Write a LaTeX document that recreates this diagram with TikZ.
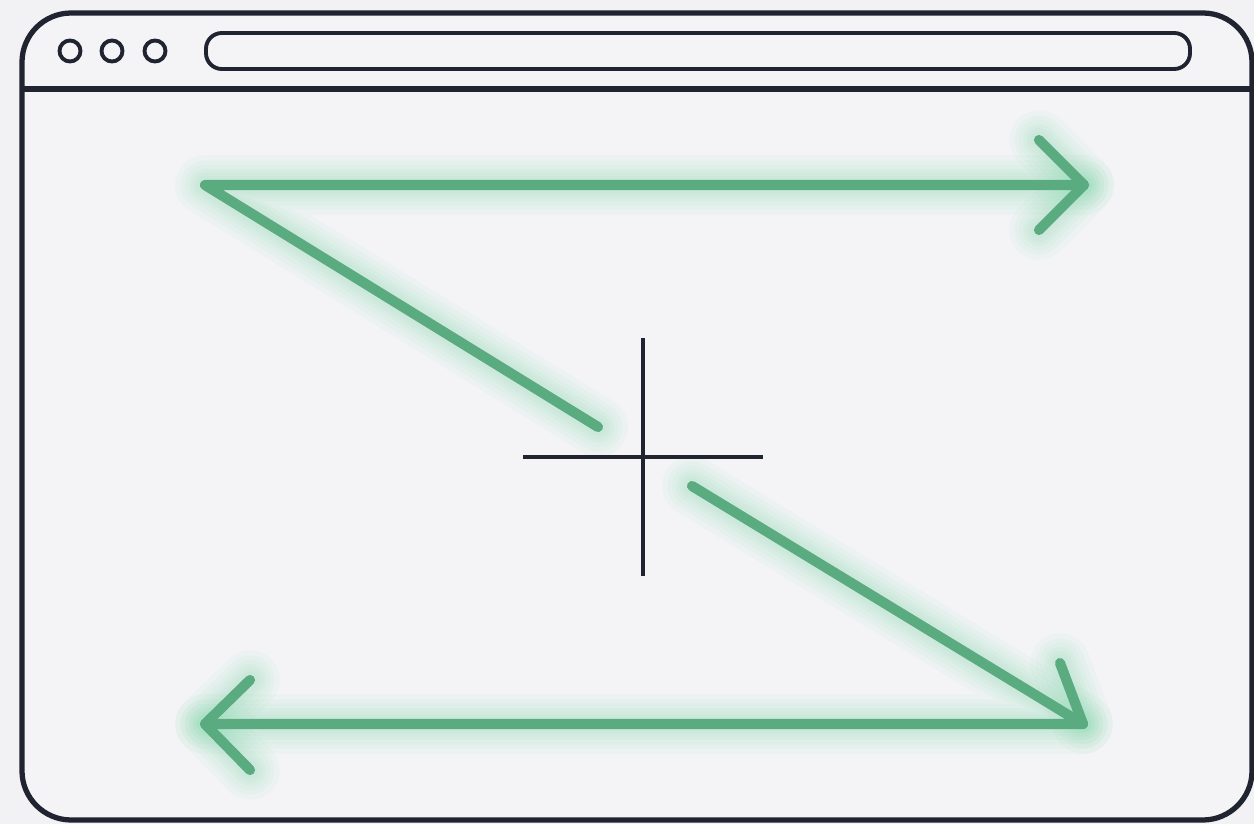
\documentclass[tikz,border=0pt]{standalone}
\begin{document}
\begin{tikzpicture}[x=0.02cm,y=-0.02cm,
  ink/.style={draw=inkc,line width=3pt},
  thin/.style={draw=inkc,line width=2.2pt},
  arrowline/.style={draw=greenc,line width=5.8pt,line cap=round,line join=round},
  glow/.style={draw=glowc,line width=#1,line cap=round,line join=round,opacity=0.045}]
\definecolor{inkc}{HTML}{1F2430}
\definecolor{greenc}{HTML}{5BAB80}
\definecolor{glowc}{HTML}{4FD08A}
\definecolor{bgc}{HTML}{F2F2F4}
\definecolor{winc}{HTML}{F4F4F7}
\useasboundingbox (0,0) rectangle (1254,824);
\fill[bgc] (0,0) rectangle (1254,824);
% window
\draw[ink,fill=winc,rounded corners=28] (22,13) rectangle (1252,820);
\draw[ink] (22,89) -- (1252,89);
\foreach \cx in {70,112,155}
  \draw[thin] (\cx,51) circle[radius=10.5];
\draw[thin,rounded corners=9] (206,33) rectangle (1190,69);
% coordinates
\coordinate (tl) at (205,185);
\coordinate (tr) at (1084,185);
\coordinate (trA) at (1039,140);
\coordinate (trB) at (1039,230);
\coordinate (d1) at (598,427);
\coordinate (d2) at (692,486);
\coordinate (br) at (1083,724);
\coordinate (brA) at (1060,663);
\coordinate (bl) at (205,724);
\coordinate (blA) at (250,680);
\coordinate (blB) at (250,770);
% glow
\foreach \w in {34pt,28pt,23pt,18pt,14pt,10pt}{
  \draw[glow=\w] (d1) -- (tl) -- (tr);
  \draw[glow=\w] (trA) -- (tr) -- (trB);
  \draw[glow=\w] (d2) -- (br) -- (bl);
  \draw[glow=\w] (brA) -- (br);
  \draw[glow=\w] (blA) -- (bl) -- (blB);
}
% arrows
\draw[arrowline] (d1) -- (tl) -- (tr);
\draw[arrowline] (trA) -- (tr) -- (trB);
\draw[arrowline] (d2) -- (br) -- (bl);
\draw[arrowline] (brA) -- (br);
\draw[arrowline] (blA) -- (bl) -- (blB);
% crosshair
\coordinate (vt) at (643,338);
\coordinate (vb) at (643,576);
\coordinate (hl) at (523,457);
\coordinate (hr) at (763,457);
\draw[thin] (vt) -- (vb);
\draw[thin] (hl) -- (hr);
\end{tikzpicture}
\end{document}
